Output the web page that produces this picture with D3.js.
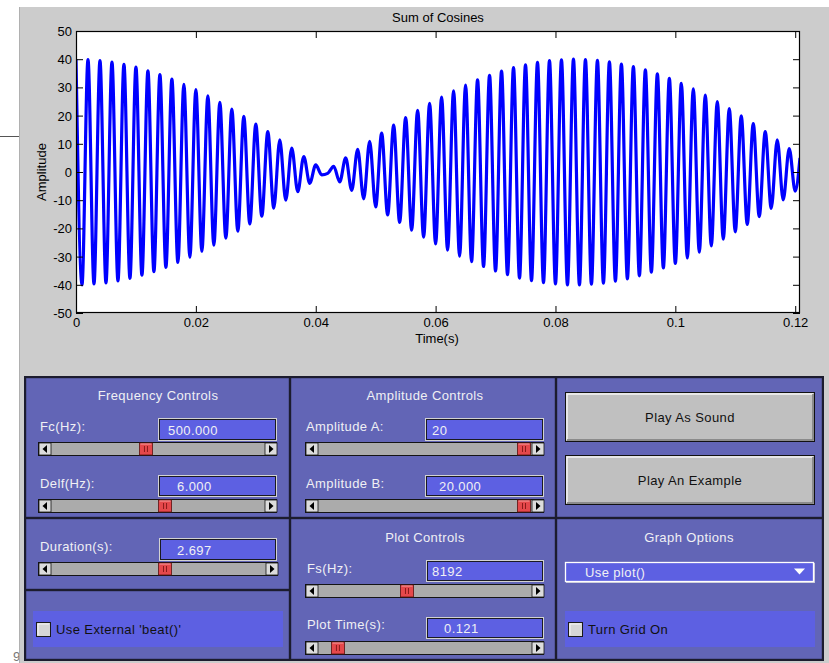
<!DOCTYPE html>
<html>
<head>
<meta charset="utf-8">
<title>Sum of Cosines</title>
<style>
  body { margin: 0; background: #fff; }
  svg { display: block; }
  .ax text { font-family: "Liberation Sans", Arial, sans-serif; font-size: 13px; fill: #000; }
  .gui { font-family: "Liberation Sans", Arial, sans-serif; font-size: 13px; letter-spacing: 0.4px; }
</style>
</head>
<body>
<div id="chart"></div>
<script src="https://d3js.org/d3.v7.min.js"></script>
<script>
// extremes of the plotted waveform (time in ms, amplitude)
var peakTimeMs = [0,1,2,3,4,5,6,7,8,9,10,11,12,13,14,15,16,17,18,19,20,21,22,23,24,25,26,27,28,29,
  30,31,32,33,34,35,36,37,38,39,40,41,42,43,44,45,46,47,48,49,50,51,52,53,54,55,56,57,58,59,
  60,61,62,63,64,65,66,67,68,69,70,71,72,73,74,75,76,77,78,79,80,81,82,83,84,85,86,87,88,89,
  90,91,92,93,94,95,96,97,98,99,100,101,102,103,104,105,106,107,108,109,110,111,112,113,114,
  115,116,117,118,119,120,120.8];
var peakAmp = [40.0,-40.0,39.9,-39.7,39.5,-39.3,39.0,-38.6,38.2,-37.7,37.2,-36.6,35.9,-35.3,34.5,
  -33.8,32.9,-32.1,31.1,-30.2,29.2,-28.1,27.0,-25.9,24.7,-23.5,22.3,-21.0,19.7,-18.4,17.0,-15.7,
  14.3,-12.8,11.4,-10.0,8.5,-7.0,5.5,-4.0,2.5,-1.0,-0.5,2.0,-3.5,5.0,-6.5,8.0,-9.5,10.9,-12.4,
  13.8,-15.2,16.6,-17.9,19.3,-20.6,21.9,-23.1,24.3,-25.5,26.6,-27.7,28.8,-29.8,30.8,-31.8,32.7,
  -33.5,34.3,-35.1,35.8,-36.4,37.0,-37.6,38.0,-38.5,38.9,-39.2,39.5,-39.7,39.8,-40.0,40.0,-40.0,
  39.9,-39.8,39.6,-39.4,39.1,-38.7,38.3,-37.9,37.4,-36.8,36.2,-35.5,34.8,-34.0,33.2,-32.4,31.4,
  -30.5,29.5,-28.4,27.3,-26.2,25.0,-23.8,22.5,-21.2,19.9,-18.6,17.2,-15.8,14.3,-12.9,11.4,-9.9,
  8.3,-6.8,5.0];

var xTicks = [0, 0.02, 0.04, 0.06, 0.08, 0.1, 0.12];
var xTickLabels = ["0", "0.02", "0.04", "0.06", "0.08", "0.1", "0.12"];
var yTicks = [-50, -40, -30, -20, -10, 0, 10, 20, 30, 40, 50];
var xMax = 0.1208;

// GUI controls
var panelTitles = ["Frequency Controls", "Amplitude Controls", "Plot Controls", "Graph Options"];
var editLabels = ["Fc(Hz):", "Delf(Hz):", "Amplitude A:", "Amplitude B:", "Duration(s):", "Fs(Hz):", "Plot Time(s):"];
var editValues = ["500.000", "6.000", "20", "20.000", "2.697", "8192", "0.121"];
var sliderFrac = [0.442, 0.538, 1.0, 1.0, 0.535, 0.412, 0.065];
var buttonLabels = ["Play As Sound", "Play An Example"];
var popupLabel = "Use plot()";
var checkLabels = ["Use External 'beat()'", "Turn Grid On"];

var W = 829, H = 663;
var svg = d3.select("#chart").append("svg").attr("width", W).attr("height", H);

// stray bits of the window behind
svg.append("line").attr("x1", 0).attr("x2", 19).attr("y1", 136.5).attr("y2", 136.5)
  .attr("stroke", "#555").attr("stroke-width", 1);
svg.append("text").attr("x", 13).attr("y", 661).text("9")
  .style("font-family", "Liberation Sans, Arial").style("font-size", "13px").style("fill", "#777");

// figure background
svg.append("rect").attr("x", 19).attr("y", 7).attr("width", W - 19).attr("height", H - 7).attr("fill", "#cccccc");
svg.append("line").attr("x1", 19.5).attr("x2", 19.5).attr("y1", 7).attr("y2", H).attr("stroke", "#b0b0b0");

// ---- plot ----
var m = {left: 76, right: 800, top: 31, bottom: 313};
var x = d3.scaleLinear().domain([0, xMax]).range([m.left, m.right]);
var y = d3.scaleLinear().domain([-50, 50]).range([m.bottom, m.top]);

svg.append("rect").attr("x", m.left).attr("y", m.top)
  .attr("width", m.right - m.left).attr("height", m.bottom - m.top).attr("fill", "#fff");

svg.append("clipPath").attr("id", "clip").append("rect")
  .attr("x", m.left).attr("y", m.top).attr("width", m.right - m.left).attr("height", m.bottom - m.top);

var pts = peakTimeMs.map(function(t, i) { return [t / 1000, peakAmp[i]]; });
var line = d3.line()
  .x(function(d) { return x(d[0]); })
  .y(function(d) { return y(d[1]); })
  .curve(d3.curveMonotoneX);

svg.append("path").datum(pts)
  .attr("clip-path", "url(#clip)")
  .attr("d", line)
  .attr("fill", "none")
  .attr("stroke", "#0000ff")
  .attr("stroke-width", 3.2)
  .attr("stroke-linejoin", "round");

// axes, ticks pointing inwards like matlab
var gx = svg.append("g").attr("class", "ax").attr("transform", "translate(0," + m.bottom + ")")
  .call(d3.axisBottom(x).tickValues(xTicks).tickSizeInner(-7).tickSizeOuter(0).tickPadding(5)
    .tickFormat(function(d, i) { return xTickLabels[i]; }));
var gy = svg.append("g").attr("class", "ax").attr("transform", "translate(" + m.left + ",0)")
  .call(d3.axisLeft(y).tickValues(yTicks).tickSizeInner(-7).tickSizeOuter(0).tickPadding(4)
    .tickFormat(function(d) { return String(d); }));
var gt = svg.append("g").attr("class", "ax").attr("transform", "translate(0," + m.top + ")")
  .call(d3.axisTop(x).tickValues(xTicks).tickSizeInner(-7).tickSizeOuter(0).tickFormat(""));
var gr = svg.append("g").attr("class", "ax").attr("transform", "translate(" + m.right + ",0)")
  .call(d3.axisRight(y).tickValues(yTicks).tickSizeInner(-7).tickSizeOuter(0).tickFormat(""));
[gx, gy, gt, gr].forEach(function(g) {
  g.select(".domain").remove();
  g.selectAll(".tick line").attr("stroke", "#000");
});
gy.selectAll(".tick text").attr("dy", "0.35em");

svg.append("rect").attr("x", m.left + 0.5).attr("y", m.top + 0.5)
  .attr("width", m.right - m.left - 1).attr("height", m.bottom - m.top - 1)
  .attr("fill", "none").attr("stroke", "#000").attr("stroke-width", 1.2);

svg.append("text").attr("class", "ax").attr("x", 438).attr("y", 22).attr("text-anchor", "middle")
  .style("font-family", "Liberation Sans, Arial").style("font-size", "13px").text("Sum of Cosines");
svg.append("text").attr("x", 437).attr("y", 343).attr("text-anchor", "middle")
  .style("font-family", "Liberation Sans, Arial").style("font-size", "13px").text("Time(s)");
svg.append("text").attr("transform", "translate(46,172) rotate(-90)").attr("text-anchor", "middle")
  .style("font-family", "Liberation Sans, Arial").style("font-size", "13px").text("Amplitude");

// ---- GUI panels ----
var panelFill = "#6265b6", boxFill = "#5d60e2", light = "#f0f0f4";
var gui = svg.append("g").attr("class", "gui");

gui.append("rect").attr("x", 24).attr("y", 376).attr("width", 800).attr("height", 285).attr("fill", "#1c1c2e");
var panels = [[25, 377, 290, 518], [290, 377, 556, 518], [556, 377, 823, 518],
  [25, 518, 290, 590], [25, 590, 290, 660], [290, 518, 556, 660], [556, 518, 823, 660]];
panels.forEach(function(p) {
  gui.append("rect").attr("x", p[0] + 1.2).attr("y", p[1] + 1.2)
    .attr("width", p[2] - p[0] - 2.4).attr("height", p[3] - p[1] - 2.4).attr("fill", panelFill);
});

var titlePos = [[158, 400], [425, 400], [425, 542], [689, 542]];
panelTitles.forEach(function(t, i) {
  gui.append("text").attr("x", titlePos[i][0]).attr("y", titlePos[i][1]).attr("text-anchor", "middle")
    .attr("fill", light).text(t);
});

// label x/y, edit box [x1,x2,y1,y2], text x, slider [x1,x2,y]
var ctrl = [
  {lx: 40, ly: 431, box: [158, 277, 418, 441], tx: 168, sl: [38, 277, 442]},
  {lx: 40, ly: 488, box: [158, 277, 475, 497], tx: 177, sl: [38, 277, 499]},
  {lx: 306, ly: 431, box: [425, 544, 418, 441], tx: 432, sl: [305, 544, 442]},
  {lx: 306, ly: 488, box: [425, 544, 475, 497], tx: 439, sl: [305, 544, 499]},
  {lx: 40, ly: 551, box: [159, 277, 538, 561], tx: 177, sl: [38, 278, 562]},
  {lx: 307, ly: 573, box: [426, 544, 560, 582], tx: 432, sl: [305, 544, 584]},
  {lx: 307, ly: 629, box: [426, 544, 617, 639], tx: 444, sl: [305, 544, 641]}
];

ctrl.forEach(function(c, i) {
  gui.append("text").attr("x", c.lx).attr("y", c.ly).attr("fill", light).text(editLabels[i]);
  var b = c.box;
  gui.append("rect").attr("x", b[0] + 0.5).attr("y", b[2] + 0.5).attr("width", b[1] - b[0] - 1)
    .attr("height", b[3] - b[2] - 1).attr("fill", boxFill).attr("stroke", "#d2d2d2");
  gui.append("rect").attr("x", b[0] + 1.5).attr("y", b[2] + 1.5).attr("width", b[1] - b[0] - 3)
    .attr("height", b[3] - b[2] - 3).attr("fill", "none").attr("stroke", "#1a1a22");
  gui.append("text").attr("x", c.tx).attr("y", b[3] - 6).attr("fill", light).text(editValues[i]);

  // slider
  var s = c.sl, h = 14, bw = 13, tw = 14;
  var g = gui.append("g");
  g.append("rect").attr("x", s[0] + 0.5).attr("y", s[2] + 0.5).attr("width", s[1] - s[0] - 1).attr("height", h - 1)
    .attr("fill", "#ababab").attr("stroke", "#141414");
  [s[0], s[1] - bw].forEach(function(bx, j) {
    g.append("rect").attr("x", bx + 1).attr("y", s[2] + 1).attr("width", bw - 1).attr("height", h - 2)
      .attr("fill", "#dcdcdc").attr("stroke", "#141414").attr("stroke-width", 0.8);
    var cx = bx + bw / 2 + 0.5, cy = s[2] + h / 2;
    var tri = j === 0 ? [[cx + 2, cy - 4], [cx + 2, cy + 4], [cx - 2.5, cy]]
                      : [[cx - 2, cy - 4], [cx - 2, cy + 4], [cx + 2.5, cy]];
    g.append("path").attr("d", d3.line()(tri) + "Z").attr("fill", "#000");
  });
  var t0 = s[0] + bw, t1 = s[1] - bw - tw;
  var tx = t0 + sliderFrac[i] * (t1 - t0);
  g.append("rect").attr("x", tx + 0.5).attr("y", s[2] + 1).attr("width", tw - 1).attr("height", h - 2)
    .attr("fill", "#e5484b").attr("stroke", "#5a1010").attr("stroke-width", 0.8);
  g.append("line").attr("x1", tx + 1.5).attr("x2", tx + tw - 1.5).attr("y1", s[2] + 2).attr("y2", s[2] + 2)
    .attr("stroke", "#f5a0a0");
  [tx + 5.5, tx + 8.5].forEach(function(lx) {
    g.append("line").attr("x1", lx).attr("x2", lx).attr("y1", s[2] + 4).attr("y2", s[2] + h - 4)
      .attr("stroke", "#8a1a1a").attr("stroke-width", 1);
  });
});

// buttons
var btns = [[565, 815, 392, 442], [565, 815, 455, 505]];
btns.forEach(function(b, i) {
  gui.append("rect").attr("x", b[0] + 0.5).attr("y", b[2] + 0.5).attr("width", b[1] - b[0] - 1)
    .attr("height", b[3] - b[2] - 1).attr("fill", "#c0c0c0").attr("stroke", "#111");
  gui.append("path").attr("d", "M" + (b[0] + 2) + "," + (b[3] - 2) + "V" + (b[2] + 2) + "H" + (b[1] - 2))
    .attr("fill", "none").attr("stroke", "#f4f4f4").attr("stroke-width", 1.5);
  gui.append("path").attr("d", "M" + (b[0] + 2) + "," + (b[3] - 2) + "H" + (b[1] - 2) + "V" + (b[2] + 2))
    .attr("fill", "none").attr("stroke", "#7a7a7a").attr("stroke-width", 1.5);
  gui.append("text").attr("x", (b[0] + b[1]) / 2).attr("y", (b[2] + b[3]) / 2 + 5)
    .attr("text-anchor", "middle").attr("fill", "#111").text(buttonLabels[i]);
});

// popup menu
gui.append("rect").attr("x", 566).attr("y", 563).attr("width", 249).attr("height", 20).attr("fill", "#c8c8d8");
gui.append("rect").attr("x", 565.5).attr("y", 562.5).attr("width", 248).attr("height", 19)
  .attr("fill", boxFill).attr("stroke", "#ffffff").attr("stroke-width", 1.3);
gui.append("text").attr("x", 585).attr("y", 577).attr("fill", light).text(popupLabel);
gui.append("path").attr("d", "M794,568.5H805L799.5,574.5Z").attr("fill", "#fff");

// check boxes
var strips = [[33, 283], [565, 815]];
strips.forEach(function(s, i) {
  gui.append("rect").attr("x", s[0]).attr("y", 611).attr("width", s[1] - s[0]).attr("height", 36).attr("fill", boxFill);
  gui.append("rect").attr("x", s[0] + 3.5).attr("y", 622.5).attr("width", 14).attr("height", 14)
    .attr("fill", "#d6d6d6").attr("stroke", "#1a1a1a");
  gui.append("path").attr("d", "M" + (s[0] + 5) + ",635V624H" + (s[0] + 16))
    .attr("fill", "none").attr("stroke", "#f6f6f6");
  gui.append("text").attr("x", s[0] + 23).attr("y", 634).attr("fill", "#111").text(checkLabels[i]);
});
</script>
</body>
</html>
